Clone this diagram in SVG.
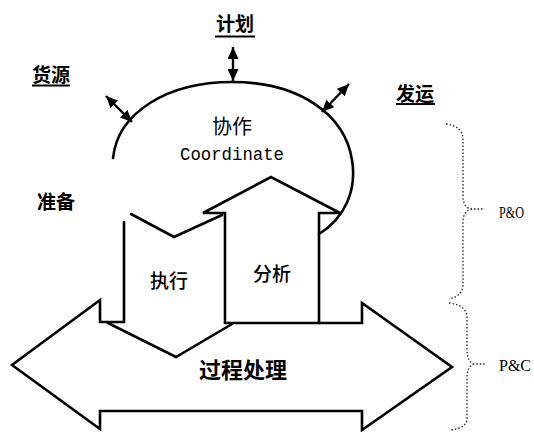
<svg xmlns="http://www.w3.org/2000/svg" width="534" height="432" viewBox="0 0 534 432">
<style>
.ln{fill:none;stroke:#000;stroke-width:2.6;stroke-linejoin:miter;stroke-linecap:round}
.dot{fill:none;stroke:#222;stroke-width:1.3;stroke-dasharray:1.5 2}
.cjk{font-family:"Noto Sans CJK SC","Noto Sans",sans-serif;text-anchor:middle;fill:#000}
.b{font-weight:bold}
.ul{stroke:#000;stroke-width:2}
.lat{font-family:"Liberation Serif",serif;font-size:16px;fill:#000}
</style>
<defs>
<marker id="ah" markerUnits="userSpaceOnUse" markerWidth="12" markerHeight="11" refX="12" refY="5.5" orient="auto-start-reverse">
<path d="M0,0 L12,5.5 L0,11 z" fill="#000"/>
</marker>
</defs>
<rect width="534" height="432" fill="#fff"/>
<g id="connectors">
<line x1="233" y1="47" x2="233" y2="81" stroke="#000" stroke-width="2.4" marker-start="url(#ah)" marker-end="url(#ah)"/>
<line x1="106" y1="96" x2="132" y2="122" stroke="#000" stroke-width="2.4" marker-start="url(#ah)" marker-end="url(#ah)"/>
<line x1="349" y1="84" x2="322" y2="112" stroke="#000" stroke-width="2.4" marker-start="url(#ah)" marker-end="url(#ah)"/>
</g>
<g id="coordinate">
<path class="ln" d="M113,158 C118,112 168,82 232,82 C300,82 345,115 352,160 C357,190 345,218 319,234"/>
<text class="cjk" x="232" y="134" font-size="20">协作</text>
<text x="232" y="160" font-family="Liberation Mono, monospace" font-size="18" text-anchor="middle" textLength="104" lengthAdjust="spacingAndGlyphs">Coordinate</text>
</g>
<g id="process">
<path class="ln" d="M124,322 L100,322 L100,300 L12,365 L100,429 L100,411 L362,411 L362,430 L452,367 L362,303 L362,323 L225,323"/>
<path class="ln" d="M108,323 L176,357 L232,324"/>
<text class="cjk b" x="243" y="378" font-size="22">过程处理</text>
</g>
<g id="execute">
<path class="ln" d="M124,322 L124,222"/>
<path class="ln" d="M131,214 L174,237 L222,215"/>
<text class="cjk" x="169" y="287.5" font-size="19" font-weight="500">执行</text>
</g>
<g id="analyze">
<path class="ln" d="M225,323 L225,213 L203,213 L271,177 L340,213 L319,213 L319,323"/>
<text class="cjk" x="272" y="281" font-size="19" font-weight="500">分析</text>
</g>
<g id="plan">
<text class="cjk b" x="235" y="31" font-size="19">计划</text>
<line class="ul" x1="215" y1="36.5" x2="255" y2="36.5"/>
</g>
<g id="source">
<text class="cjk b" x="51" y="81.5" font-size="19">货源</text>
<line class="ul" x1="32" y1="85.5" x2="70" y2="85.5"/>
</g>
<g id="deliver">
<text class="cjk b" x="415" y="100.5" font-size="19">发运</text>
<line class="ul" x1="396" y1="104" x2="435" y2="104"/>
</g>
<g id="prepare">
<text class="cjk b" x="56" y="209" font-size="19">准备</text>
</g>
<g id="po">
<path class="dot" d="M446,124 Q463,126 463,140 L463,196 Q463,208 472,209 L484,209 M472,209 Q463,211 463,222 L463,284 Q463,296 449,299"/>
<text class="lat" x="499" y="218" textLength="25" lengthAdjust="spacingAndGlyphs">P&amp;O</text>
</g>
<g id="pc">
<path class="dot" d="M449,303 Q467,305 467,318 L467,350 Q467,362 474,364 L485,364 M474,364 Q467,366 467,378 L467,418 Q467,428 451,430"/>
<text class="lat" x="499" y="371">P&amp;C</text>
</g>
</svg>
